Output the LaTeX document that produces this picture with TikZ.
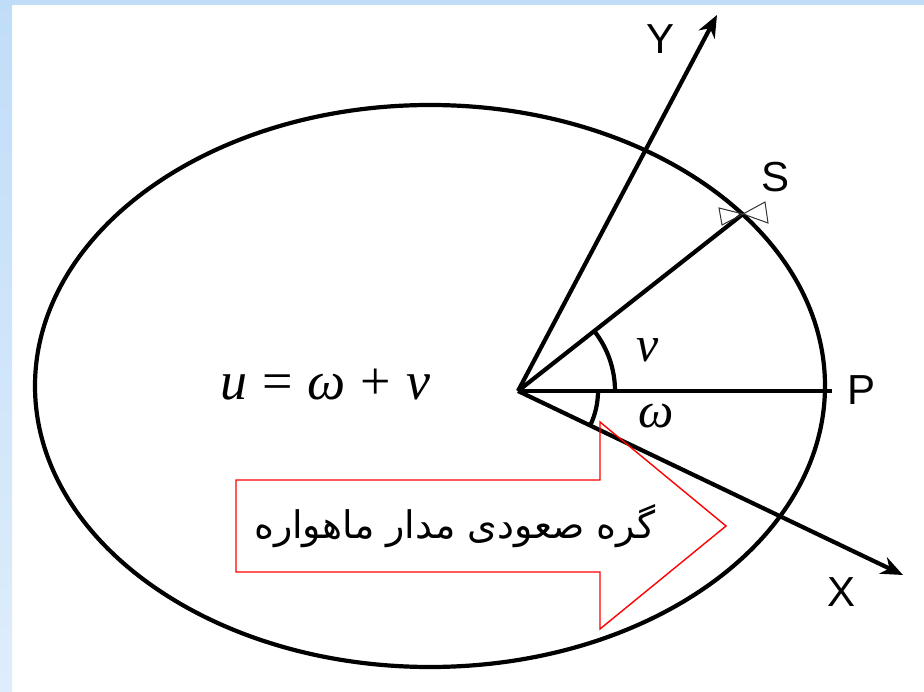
\documentclass[tikz,border=0pt]{standalone}
\usepackage{fontspec}
\setmainfont{Liberation Serif}
\newfontfamily\arialfont{Liberation Sans}
\newfontfamily\farsifont[Script=Arabic]{DejaVu Sans}
\TeXXeTstate=1
\usetikzlibrary{arrows.meta}
\definecolor{bandtop}{RGB}{192,221,248}
\definecolor{bandbot}{RGB}{222,237,251}
\begin{document}
\begin{tikzpicture}[x=1pt,y=-1pt,
  axis/.style={line width=4.2pt,-{Stealth[length=22pt,width=18pt,inset=7pt]}},
  thickline/.style={line width=4.2pt},
  axislabel/.style={font=\arialfont\fontsize{42}{44}\selectfont,inner sep=0pt},
  mathlabel/.style={font=\fontsize{50}{52}\selectfont\itshape,inner sep=0pt},
  satmark/.style={line width=1pt,draw=black!80},
  bigarrow/.style={draw=red,line width=1.4pt}]
\useasboundingbox (0,0) rectangle (924,692);
% background
\fill[white] (0,0) rectangle (924,692);
\shade[top color=bandtop,bottom color=bandbot] (0,0) rectangle (12,692);
\fill[bandtop] (0,0) rectangle (924,5);
% orbit
\draw[thickline] (430,386) ellipse[x radius=395,y radius=281];
% points
\coordinate (O) at (518,391);
\coordinate (Ytip) at (717,15);
\coordinate (Xtip) at (903,575);
\coordinate (Pend) at (832,391);
\coordinate (S) at (743,214);
% axes
\draw[axis] (O) -- (Ytip);
\draw[axis] (O) -- (Xtip);
\draw[thickline] (O) -- (Pend);
\draw[thickline] (O) -- (S);
% angle arcs
\draw[thickline] (O) ++(0:97) arc[start angle=0,end angle=-38,radius=97];
\draw[thickline] (O) ++(0:80) arc[start angle=0,end angle=25.5,radius=80];
% satellite marker
\draw[satmark] (S) -- (719,208) -- (722,225) -- cycle;
\draw[satmark] (S) -- (765,202) -- (768,223) -- cycle;
% labels
\node[axislabel] (ly) at (661,39) {Y};
\node[axislabel] (ls) at (775,177) {S};
\node[axislabel] (lp) at (861,390) {P};
\node[axislabel] (lx) at (841,592) {X};
\node[mathlabel] (lv) at (648,350) {v};
\node[mathlabel] (lw) at (656,416) {ω};
\node[font=\fontsize{54}{56}\selectfont,inner sep=0pt] (eq) at (325,385) {\textit{u}\;=\;\textit{ω}\;+\;\textit{v}};
% big arrow
\draw[bigarrow] (236,480) -- (600,480) -- (600,422) -- (726,526) -- (600,629) -- (600,572) -- (236,572) -- cycle;
\node[font=\farsifont\fontsize{38}{40}\selectfont,inner sep=0pt] (node) at (455,526) {\beginR گره صعودی مدار ماهواره\endR};
\end{tikzpicture}
\end{document}
